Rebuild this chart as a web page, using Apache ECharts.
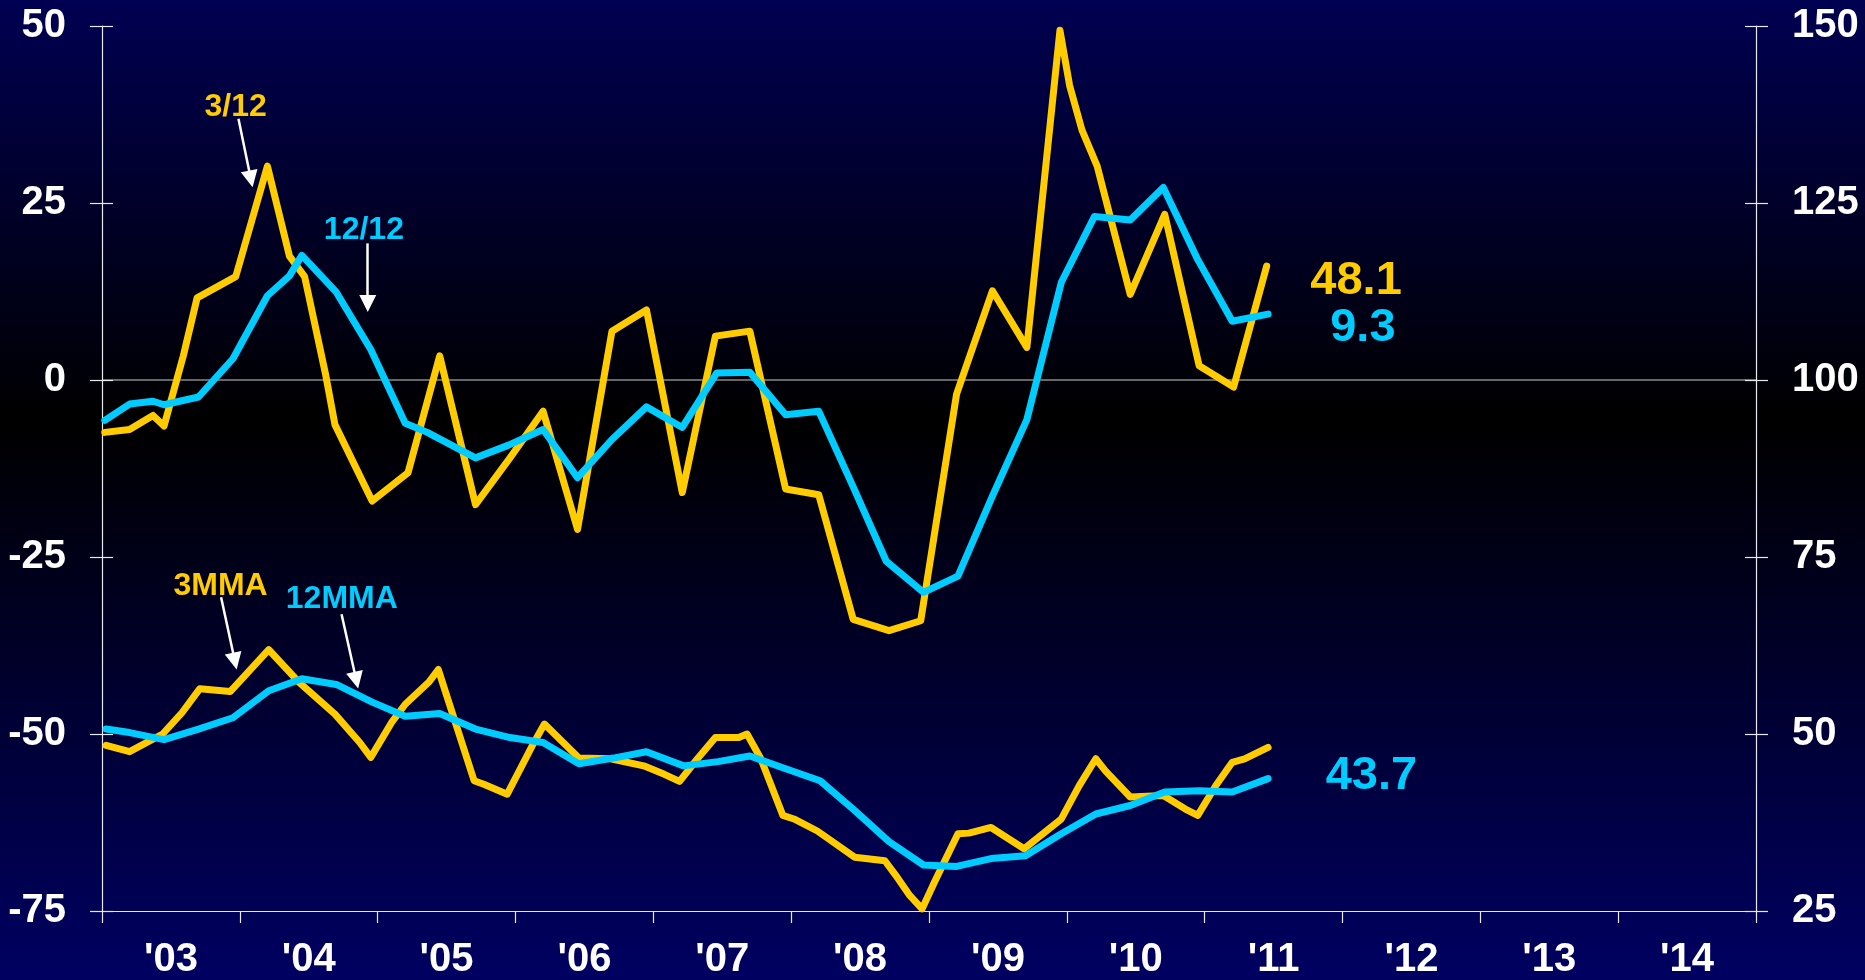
<!DOCTYPE html>
<html>
<head>
<meta charset="utf-8">
<script src="https://cdn.jsdelivr.net/npm/echarts@6/dist/echarts.min.js"></script>
<style>
  html, body { margin: 0; padding: 0; background: #000; }
  #chart { width: 1865px; height: 980px; }
</style>
</head>
<body>
<div id="chart"></div>
<script>
// Year labels, one per calendar year on the time axis
const yearLabels = ["'03", "'04", "'05", "'06", "'07", "'08", "'09", "'10", "'11", "'12", "'13", "'14"];

// Upper panel, left axis: 3/12 annualised change (decimal years / values)
const t312 = [2003.02, 2003.20, 2003.37, 2003.45, 2003.59, 2003.69, 2003.97, 2004.20, 2004.36, 2004.47,
  2004.62, 2004.69, 2004.96, 2005.22, 2005.45, 2005.71, 2005.96, 2006.20, 2006.45, 2006.70,
  2006.95, 2007.21, 2007.45, 2007.70, 2007.96, 2008.20, 2008.45, 2008.71, 2008.94, 2009.20,
  2009.46, 2009.71, 2009.95, 2010.02, 2010.11, 2010.22, 2010.46, 2010.71, 2010.96, 2011.21, 2011.45];
const v312 = [-7.4, -7.0, -5.0, -6.5, 3.4, 11.6, 14.6, 30.2, 17.5, 14.6,
  1.0, -6.3, -17.1, -13.1, 3.4, -17.6, -11.0, -4.4, -21.1, 6.9,
  9.9, -15.9, 6.2, 6.9, -15.4, -16.2, -33.8, -35.4, -34.0, -2.0,
  12.6, 4.6, 49.4, 41.6, 35.3, 30.2, 12.1, 23.4, 2.0, -1.0, 16.1];

// Upper panel, left axis: 12/12 change
const t1212 = [2003.02, 2003.20, 2003.37, 2003.45, 2003.70, 2003.95, 2004.20, 2004.36, 2004.45, 2004.70,
  2004.95, 2005.20, 2005.36, 2005.71, 2005.95, 2006.20, 2006.45, 2006.70, 2006.95, 2007.21,
  2007.46, 2007.70, 2007.96, 2008.20, 2008.45, 2008.69, 2008.96, 2009.21, 2009.46, 2009.71,
  2009.96, 2010.20, 2010.46, 2010.70, 2010.95, 2011.20, 2011.46];
const v1212 = [-5.7, -3.4, -3.0, -3.5, -2.4, 3.0, 11.9, 14.7, 17.6, 12.4,
  4.3, -6.1, -7.4, -11.0, -9.2, -7.0, -13.8, -8.4, -3.8, -6.7,
  1.0, 1.1, -4.9, -4.4, -15.1, -25.6, -30.0, -27.7, -16.4, -5.6,
  13.8, 23.1, 22.6, 27.2, 17.0, 8.3, 9.3];

// Lower panel, right axis: 3-month moving average level
const t3mma = [2003.03, 2003.20, 2003.44, 2003.58, 2003.71, 2003.93, 2004.21, 2004.43, 2004.69, 2004.87,
  2004.95, 2005.10, 2005.20, 2005.37, 2005.44, 2005.70, 2005.77, 2005.94, 2006.12, 2006.21,
  2006.46, 2006.69, 2006.93, 2007.08, 2007.19, 2007.32, 2007.45, 2007.62, 2007.68, 2007.78,
  2007.94, 2008.02, 2008.19, 2008.46, 2008.68, 2008.76, 2008.86, 2008.95, 2009.04, 2009.21,
  2009.29, 2009.45, 2009.69, 2009.96, 2010.09, 2010.21, 2010.28, 2010.46, 2010.70, 2010.86,
  2010.95, 2011.08, 2011.20, 2011.29, 2011.46];
const v3mma = [48.4, 47.5, 50.0, 53.0, 56.4, 56.0, 61.9, 57.3, 52.8, 48.8,
  46.7, 51.6, 54.2, 57.3, 59.1, 43.4, 42.9, 41.5, 48.3, 51.4,
  46.6, 46.5, 45.5, 44.3, 43.3, 46.5, 49.5, 49.5, 50.0, 46.5,
  38.5, 38.0, 36.3, 32.6, 32.1, 30.0, 27.2, 25.3, 29.1, 35.9,
  36.0, 36.8, 33.8, 38.0, 42.7, 46.5, 44.8, 41.1, 41.3, 39.4,
  38.5, 42.7, 46.0, 46.5, 48.1];

// Lower panel, right axis: 12-month moving average level
const t12mma = [2003.03, 2003.20, 2003.45, 2003.70, 2003.95, 2004.21, 2004.45, 2004.70, 2004.96, 2005.20,
  2005.45, 2005.71, 2005.96, 2006.20, 2006.46, 2006.71, 2006.95, 2007.22, 2007.47, 2007.70,
  2007.96, 2008.21, 2008.46, 2008.71, 2008.96, 2009.20, 2009.45, 2009.70, 2009.96, 2010.21,
  2010.46, 2010.71, 2010.96, 2011.20, 2011.46];
const v12mma = [50.7, 50.2, 49.2, 50.7, 52.3, 56.1, 57.8, 57.0, 54.5, 52.5,
  52.9, 50.7, 49.5, 48.8, 45.8, 46.6, 47.5, 45.5, 46.1, 46.9,
  45.1, 43.4, 39.2, 34.8, 31.5, 31.3, 32.4, 32.8, 35.9, 38.7,
  39.9, 41.8, 42.0, 41.8, 43.7];

const zip = (xs, ys) => xs.map((x, i) => [x, ys[i]]);
const last = a => a[a.length - 1];

const FONT = 'Liberation Sans, Arial, sans-serif';
const YELLOW = '#FFCC00';
const CYAN = '#00CCFF';
const AXIS = '#e8e8f0';

const lineStyle = c => ({ color: c, width: 7, cap: 'round', join: 'round' });

// Text annotation placed in data space
const note = (name, x, y, color, size, align) => ({
  name, coord: [x, y], symbol: 'circle', symbolSize: 1,
  itemStyle: { color: 'rgba(0,0,0,0)' },
  label: {
    show: true, position: 'inside', formatter: p => p.name, color,
    fontFamily: FONT, fontWeight: 'bold', fontSize: size,
    align: align || 'center', verticalAlign: 'middle'
  }
});

// White pointer arrow from a label towards its line
const pointer = (x1, y1, x2, y2) => [{ coord: [x1, y1] }, { coord: [x2, y2] }];
const pointerStyle = {
  silent: true, symbol: ['none', 'triangle'], symbolSize: 17,
  lineStyle: { color: '#ffffff', width: 2.5, type: 'solid' },
  itemStyle: { color: '#ffffff' },
  label: { show: false }, emphasis: { disabled: true }
};

const valueYAxis = (pos, min, max) => ({
  type: 'value', position: pos, min, max, interval: 25,
  axisLine: { show: true, onZero: false, lineStyle: { color: AXIS, width: 1.2 } },
  axisTick: { show: true, inside: false, length: 12, lineStyle: { color: AXIS, width: 1.2 } },
  axisLabel: { show: true, color: '#ffffff', fontFamily: FONT, fontWeight: 'bold', fontSize: 40, margin: 36 },
  splitLine: { show: false }
});

const innerTicks = (pos, min, max) => ({
  type: 'value', position: pos, min, max, interval: 25,
  axisLine: { show: false, onZero: false },
  axisTick: { show: true, inside: true, length: 11, lineStyle: { color: AXIS, width: 1.2 } },
  axisLabel: { show: false }, splitLine: { show: false }
});

const chart = echarts.init(document.getElementById('chart'));
chart.setOption({
  animation: false,
  backgroundColor: {
    type: 'linear', x: 0, y: 0, x2: 0, y2: 1,
    colorStops: [
      { offset: 0, color: '#000052' },
      { offset: 0.43, color: '#000000' },
      { offset: 1, color: '#000062' }
    ]
  },
  grid: { left: 102, right: 109, top: 26, bottom: 68, containLabel: false },
  xAxis: [
    {
      type: 'value', min: 2003, max: 2015, interval: 1,
      axisLine: { show: true, onZero: false, lineStyle: { color: AXIS, width: 1.2 } },
      axisTick: { show: true, inside: false, length: 12, lineStyle: { color: AXIS, width: 1.2 } },
      axisLabel: { show: false }, splitLine: { show: false }
    },
    {
      type: 'category', data: yearLabels, boundaryGap: true, position: 'bottom',
      axisLine: { show: false, onZero: false }, axisTick: { show: false },
      axisLabel: { color: '#ffffff', fontFamily: FONT, fontWeight: 'bold', fontSize: 40, margin: 29 },
      splitLine: { show: false }
    }
  ],
  yAxis: [
    valueYAxis('left', -75, 50),
    valueYAxis('right', 25, 150),
    innerTicks('left', -75, 50),
    innerTicks('right', 25, 150),
    {
      // zero reference line across the plot
      type: 'value', position: 'left', min: -75, max: 50, interval: 75,
      axisLine: { show: false, onZero: false }, axisTick: { show: false }, axisLabel: { show: false },
      splitLine: { show: true, showMinLine: false, showMaxLine: false, lineStyle: { color: '#8a8a8a', width: 1.5 } }
    }
  ],
  series: [
    {
      name: '3/12', type: 'line', xAxisIndex: 0, yAxisIndex: 0,
      data: zip(t312, v312), showSymbol: false, lineStyle: lineStyle(YELLOW), itemStyle: { color: YELLOW },
      markPoint: { silent: true, data: [note('3/12', 2003.97, 38.6, YELLOW, 32)] },
      markLine: Object.assign({ data: [pointer(2003.99, 36.9, 2004.08, 28.4)] }, pointerStyle)
    },
    {
      name: '3MMA', type: 'line', xAxisIndex: 0, yAxisIndex: 1,
      data: zip(t3mma, v3mma), showSymbol: false, lineStyle: lineStyle(YELLOW), itemStyle: { color: YELLOW },
      markPoint: {
        silent: true, data: [
          note('3MMA', 2003.86, 70.9, YELLOW, 32),
          note(last(v3mma).toFixed(1), 2012.43, 114.0, YELLOW, 47, 'right')
        ]
      },
      markLine: Object.assign({ data: [pointer(2003.864, 69.3, 2003.964, 60.3)] }, pointerStyle)
    },
    {
      name: '12/12', type: 'line', xAxisIndex: 0, yAxisIndex: 0,
      data: zip(t1212, v1212), showSymbol: false, lineStyle: lineStyle(CYAN), itemStyle: { color: CYAN },
      markPoint: {
        silent: true, data: [
          note('12/12', 2004.90, 21.2, CYAN, 32),
          note(last(v1212).toFixed(1), 2012.385, 7.3, CYAN, 47, 'right')
        ]
      },
      markLine: Object.assign({ data: [pointer(2004.928, 19.3, 2004.928, 10.8)] }, pointerStyle)
    },
    {
      name: '12MMA', type: 'line', xAxisIndex: 0, yAxisIndex: 1,
      data: zip(t12mma, v12mma), showSymbol: false, lineStyle: lineStyle(CYAN), itemStyle: { color: CYAN },
      markPoint: {
        silent: true, data: [
          note('12MMA', 2004.74, 69.1, CYAN, 32),
          note(last(v12mma).toFixed(1), 2012.21, 44.1, CYAN, 47)
        ]
      },
      markLine: Object.assign({ data: [pointer(2004.738, 66.9, 2004.845, 57.6)] }, pointerStyle)
    }
  ]
});
</script>
</body>
</html>
